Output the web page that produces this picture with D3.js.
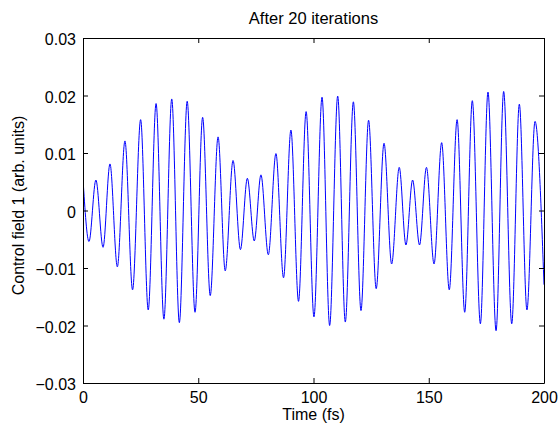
<!DOCTYPE html>
<html>
<head>
<meta charset="utf-8">
<script src="https://cdn.jsdelivr.net/npm/d3@7"></script>
<style>
  body { margin: 0; background: #fff; }
  text { font-family: "Liberation Sans", Arial, sans-serif; fill: #000; }
</style>
</head>
<body>
<div class="center"></div>
<script>
// extrema of the control field (time in fs, field in arb. units)
const times = [0, 2.6, 5.6, 8.7, 11.7, 14.9, 18.2, 21.5, 25.0, 28.3,
  31.7, 35.1, 38.5, 41.8, 45.2, 48.6, 51.9, 55.2, 58.6, 61.7,
  65.1, 68.3, 71.3, 74.3, 77.2, 80.4, 83.7, 87.0, 90.2, 93.5,
  96.8, 100.2, 103.7, 107.0, 110.5, 113.8, 117.3, 120.6, 123.9, 127.2,
  130.6, 133.9, 137.2, 140.1, 143.0, 146.0, 149.0, 152.3, 155.6, 158.9,
  162.3, 165.6, 168.9, 172.4, 175.7, 179.2, 182.5, 186.0, 189.3, 192.6,
  196.1, 200];
const values = [0.0055, -0.0054, 0.0053, -0.0064, 0.0081, -0.0098, 0.0121, -0.0138, 0.0158, -0.0173,
  0.0186, -0.0189, 0.0194, -0.0195, 0.0190, -0.0177, 0.0162, -0.0148, 0.0128, -0.0105,
  0.0087, -0.0068, 0.0056, -0.0053, 0.0062, -0.0077, 0.0099, -0.0117, 0.0140, -0.0158,
  0.0172, -0.0185, 0.0197, -0.0200, 0.0199, -0.0194, 0.0189, -0.0174, 0.0157, -0.0136,
  0.0117, -0.0093, 0.0075, -0.0060, 0.0053, -0.0060, 0.0075, -0.0093, 0.0118, -0.0138,
  0.0158, -0.0177, 0.0191, -0.0197, 0.0206, -0.0209, 0.0207, -0.0197, 0.0185, -0.0173,
  0.0155, -0.0129];

const xTicks = [0, 50, 100, 150, 200];
const yTicks = [-0.03, -0.02, -0.01, 0, 0.01, 0.02, 0.03];
const yTickLabels = ["\u22120.03", "\u22120.02", "\u22120.01", "0", "0.01", "0.02", "0.03"];

const titleText = "After 20 iterations";
const xLabel = "Time (fs)";
const yLabel = "Control field 1 (arb. units)";

// canvas / plot box
const W = 559, H = 430;
const margin = {top: 38, right: 15, bottom: 47, left: 83};
const width = W - margin.left - margin.right;
const height = H - margin.top - margin.bottom;

const xScale = d3.scaleLinear().domain([0, 200]).range([0, width]);
const yScale = d3.scaleLinear().domain([-0.03, 0.03]).range([height, 0]);

const svg = d3.select(".center").append("svg")
  .attr("width", W)
  .attr("height", H)
  .append("g")
  .attr("transform", `translate(${margin.left},${margin.top})`);

const data = times.map((t, i) => ({t: t, v: values[i]}));

const line = d3.line()
  .x(d => xScale(d.t))
  .y(d => yScale(d.v))
  .curve(d3.curveMonotoneX);

svg.append("defs").append("clipPath").attr("id", "clip")
  .append("rect").attr("width", width).attr("height", height);

svg.append("path")
  .datum(data)
  .attr("clip-path", "url(#clip)")
  .attr("fill", "none")
  .attr("stroke", "#0000ff")
  .attr("stroke-width", 1)
  .attr("d", line);

// axes, matlab style: inward ticks, mirrored on top/right
const tickLen = 5;
const fmtY = d => yTickLabels[yTicks.indexOf(d)];

const xAxis = d3.axisBottom(xScale).tickValues(xTicks).tickSizeInner(-tickLen).tickSizeOuter(0).tickPadding(9);
const xAxisTop = d3.axisTop(xScale).tickValues(xTicks).tickSizeInner(-tickLen).tickSizeOuter(0).tickFormat("");
const yAxis = d3.axisLeft(yScale).tickValues(yTicks).tickSizeInner(-tickLen).tickSizeOuter(0).tickPadding(7).tickFormat(fmtY);
const yAxisRight = d3.axisRight(yScale).tickValues(yTicks).tickSizeInner(-tickLen).tickSizeOuter(0).tickFormat("");

svg.append("g").attr("transform", `translate(0,${height})`).call(xAxis);
svg.append("g").call(xAxisTop);
svg.append("g").attr("class", "yax").call(yAxis);
svg.append("g").attr("transform", `translate(${width},0)`).call(yAxisRight);

svg.selectAll(".domain").attr("stroke", "#000").attr("stroke-width", 1);
svg.selectAll(".tick line").attr("stroke", "#000");
svg.selectAll(".tick text").style("font-size", "16px").style("font-family", "'Liberation Sans', Arial, sans-serif").attr("fill", "#000");
svg.selectAll(".yax .tick text").attr("dy", "0.42em");

// title and labels
svg.append("text")
  .attr("x", width / 2)
  .attr("y", -14)
  .attr("text-anchor", "middle")
  .style("font-size", "16.5px")
  .text(titleText);

svg.append("text")
  .attr("x", width / 2)
  .attr("y", height + 37)
  .attr("text-anchor", "middle")
  .style("font-size", "16px")
  .text(xLabel);

svg.append("text")
  .attr("transform", "rotate(-90)")
  .attr("x", -height / 2 + 5)
  .attr("y", -59)
  .attr("text-anchor", "middle")
  .style("font-size", "16px")
  .text(yLabel);
</script>
</body>
</html>
